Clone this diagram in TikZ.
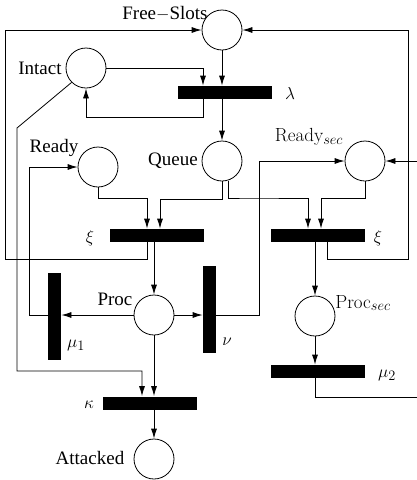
\documentclass[tikz,border=0pt]{standalone}
\usepackage{fontspec}
\newfontfamily\timesfont{Liberation Serif}
\usetikzlibrary{arrows.meta}

\begin{document}
\begin{tikzpicture}[
		x=1pt,
		y=-1pt,
		line width=0.8pt,
		every node/.style={font=\fontsize{19}{22}\selectfont},
		place/.style={draw, circle, minimum size=40pt, inner sep=0pt},
		trans/.style={fill=black, inner sep=0pt, minimum width=94pt, minimum height=13pt},
		vtrans/.style={trans, minimum width=13pt, minimum height=87pt},
		lbl/.style={font=\fontsize{19}{22}\selectfont\timesfont, inner sep=0pt},
		arc/.style={-{Latex[length=10pt, width=6pt]}}
	]
	\useasboundingbox (0, 0) rectangle (417, 480);

	% places
	\node[place] (free) at (222, 30) {};
	\node[place] (intact) at (86, 68) {};
	\node[place] (queue) at (222, 161) {};
	\node[place] (ready) at (98, 167) {};
	\node[place] (readysec) at (365, 161) {};
	\node[place] (proc) at (154, 315) {};
	\node[place] (procsec) at (315, 316) {};
	\node[place] (attacked) at (154, 459) {};

	% transitions
	\node[trans] (lambda) at (225, 92.5) {};
	\node[trans] (xiL) at (157, 235.5) {};
	\node[trans] (xiR) at (318, 235.5) {};
	\node[vtrans] (mu1) at (54.5, 316.5) {};
	\node[vtrans] (nu) at (209.5, 309.5) {};
	\node[trans] (mu2) at (318, 371.5) {};
	\node[trans] (kappa) at (150, 403) {};

	% labels
	\node[lbl] (freelbl) at (165, 14) {Free$-$Slots};
	\node[lbl] (intactlbl) at (40, 68) {Intact};
	\node[lbl] (readylbl) at (54, 148) {Ready};
	\node[lbl] (queuelbl) at (173, 161) {Queue};
	\node[inner sep=0pt] (readyseclbl) at (309, 137) {Ready$_{sec}$};
	\node[lbl] (proclbl) at (115, 299) {Proc};
	\node[inner sep=0pt] (procseclbl) at (363, 303) {Proc$_{sec}$};
	\node[lbl] (attackedlbl) at (90, 458) {Attacked};
	\node[inner sep=0pt] (lambdalbl) at (290, 93) {$\lambda$};
	\node[inner sep=0pt] (xiLlbl) at (90, 238) {$\xi$};
	\node[inner sep=0pt] (xiRlbl) at (378, 238) {$\xi$};
	\node[inner sep=0pt] (mu1lbl) at (76, 345) {$\mu_1$};
	\node[inner sep=0pt] (nulbl) at (227, 342) {$\nu$};
	\node[inner sep=0pt] (mu2lbl) at (387, 375) {$\mu_2$};
	\node[inner sep=0pt] (kappalbl) at (89, 405) {$\kappa$};

	% bend points
	\coordinate (bendK) at (17, 128);
	\coordinate (cornerL) at (5, 259);
	\coordinate (cornerR) at (408, 259);
	\coordinate (cornerM) at (419, 397);

	\draw[arc] (free.south) -- (free.south |- lambda.north);
	\draw[arc] (intact.east) -| ([xshift=-22pt]lambda.north);
	\draw[arc] ([xshift=-22pt]lambda.south) -- ++(0, 18) -| (intact.south);
	\draw[arc] (lambda.south -| queue) -- (queue.north);
	\draw[arc] (intact.south west) -- (bendK) |- (17, 371) -| ([xshift=-8pt]kappa.north);

	\draw[arc] (ready.south) -- ++(0, 11) -| ([xshift=-10pt]xiL.north);
	\draw[arc] (queue.south) -- ++(0, 18) -| ([xshift=3pt]xiL.north);
	\draw[arc] (queue.-73) |- (250, 198) -| ([xshift=-10pt]xiR.north);
	\draw[arc] (readysec.south) -- ++(0, 17) -| ([xshift=3pt]xiR.north);

	\draw[arc] ([xshift=-10pt]xiL.south) |- (cornerL) |- (free.west);
	\draw[arc] ([xshift=9pt]xiR.south) |- (cornerR) |- (free.east);
	\draw[arc] (xiL.south -| proc) -- (proc.north);
	\draw[arc] (xiR.south -| procsec) -- (procsec.north);

	\draw[arc] (proc.east) -- (proc.east -| nu.west);
	\draw[arc] (nu.east |- proc) -- ++(43, 0) |- (readysec.west);
	\draw[arc] (proc.west) -- (proc.west -| mu1.east);
	\draw[arc] (mu1.west |- proc) -- ++(-18, 0) |- (ready.west);

	\draw[arc] (procsec.south) -- (procsec.south |- mu2.north);
	\draw[arc] (mu2.south -| procsec) |- (cornerM) |- (readysec.east);
	\draw[arc] (proc.south) -- (proc.south |- kappa.north);
	\draw[arc] (kappa.south -| attacked) -- (attacked.north);
\end{tikzpicture}
\end{document}
